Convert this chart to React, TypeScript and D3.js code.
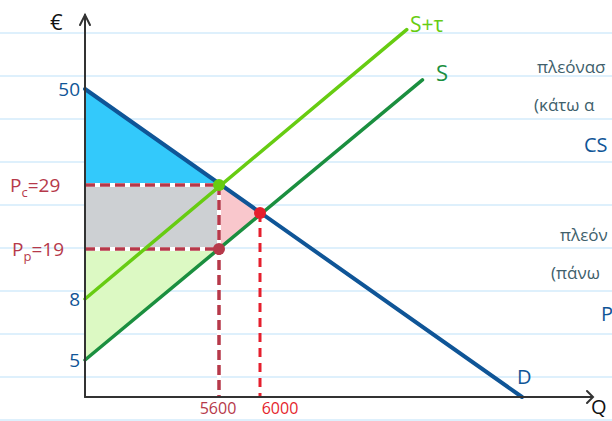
import React from "react";
import * as d3 from "d3";

// quantities and prices
const qTicks = [5600, 6000];
const qTickLabels = ["5600", "6000"];
const pTicks = [50, 8, 5];
const pTickLabels = ["50", "8", "5"];

const priceConsumer = 29; // Pc
const priceProducer = 19; // Pp
const priceEq = 24; // not labelled, estimated
const qTax = 5600;
const qEq = 6000;

// line ends (hand drawn, estimated)
const demand: [number, number][] = [[0, 50], [8500, 0]];
const supply: [number, number][] = [[0, 5], [7550, 52]];
const supplyTax: [number, number][] = [[0, 8], [7400, 63]];

// only the part of the notes that fits on the page
const noteCS = ["πλεόνασ", "(κάτω α", "CS"];
const notePS = ["πλεόν", "(πάνω", "P"];

const W = 612;
const H = 421;

// the drawing is freehand so both axes are piecewise
const x = d3.scaleLinear().domain([0, qTax, qEq, 8500]).range([85, 219, 260, 522]);
const y = d3
  .scaleLinear()
  .domain([0, 5, 8, priceProducer, priceEq, priceConsumer, 50])
  .range([397, 360, 299, 249, 213, 185, 89]);

const line = d3
  .line<[number, number]>()
  .x((d) => x(d[0]))
  .y((d) => y(d[1]));

const poly = (pts: [number, number][]) => line(pts) + "Z";

const colors = {
  blue: "#0f5597",
  cs: "#33c9fb",
  grey: "#cdd0d3",
  dwl: "#f9c7cc",
  ps: "#dcf9c3",
  lime: "#67cc12",
  green: "#1b8f3f",
  maroon: "#b6394a",
  red: "#e51f2d",
  text: "#40606b",
  rule: "#d3ebfb",
  axis: "#333",
};

const font = "'Open Sans', 'DejaVu Sans', sans-serif";

export default function App() {
  const x0 = x(0);
  const y0 = y(0);
  const rules = d3.range(33, H + 5, 43);

  return (
    <svg
      width={W}
      height={H}
      style={{ position: "absolute", left: 0, top: 0, overflow: "hidden", background: "#fff" }}
      fontFamily={font}
    >
      {/* ruled paper */}
      {rules.map((r) => (
        <line key={r} x1={0} x2={W} y1={r} y2={r} stroke={colors.rule} strokeWidth={1.5} />
      ))}

      {/* surplus areas */}
      <path d={poly([[0, 50], [qTax, priceConsumer], [0, priceConsumer]])} fill={colors.cs} />
      <path
        d={poly([[0, priceConsumer], [qTax, priceConsumer], [qTax, priceProducer], [0, priceProducer]])}
        fill={colors.grey}
      />
      <path d={poly([[qTax, priceConsumer], [qEq, priceEq], [qTax, priceProducer]])} fill={colors.dwl} />
      <path d={poly([[0, priceProducer], [qTax, priceProducer], [0, 5]])} fill={colors.ps} />

      {/* dashed guides */}
      {[priceConsumer, priceProducer].map((p) => (
        <g key={p}>
          <line x1={x0} x2={x(qTax)} y1={y(p)} y2={y(p)} stroke="#fff" strokeWidth={4} />
          <line
            x1={x0}
            x2={x(qTax)}
            y1={y(p)}
            y2={y(p)}
            stroke={colors.maroon}
            strokeWidth={3.5}
            strokeDasharray="10 5"
          />
        </g>
      ))}
      <line x1={x(qTax)} x2={x(qTax)} y1={y(priceConsumer)} y2={y0} stroke="#fff" strokeWidth={4} />
      <line
        x1={x(qTax)}
        x2={x(qTax)}
        y1={y(priceConsumer)}
        y2={y0}
        stroke={colors.maroon}
        strokeWidth={3.5}
        strokeDasharray="10 5"
      />
      <line
        x1={x(qEq)}
        x2={x(qEq)}
        y1={y(priceEq)}
        y2={y0}
        stroke={colors.red}
        strokeWidth={3}
        strokeDasharray="9 6"
      />

      {/* curves */}
      <path d={line(supply)!} fill="none" stroke={colors.green} strokeWidth={3.5} strokeLinecap="round" />
      <path d={line(supplyTax)!} fill="none" stroke={colors.lime} strokeWidth={3.5} strokeLinecap="round" />
      <path d={line(demand)!} fill="none" stroke={colors.blue} strokeWidth={4} strokeLinecap="round" />

      {/* axes */}
      <g stroke={colors.axis} strokeWidth={2} fill="none" strokeLinecap="round">
        <line x1={x0} x2={x0} y1={y0} y2={15} />
        <polyline points={`${x0 - 5},25 ${x0},15 ${x0 + 5},25`} />
        <line x1={x0} x2={592} y1={y0} y2={y0} />
        <polyline points={`587,391 593,${y0} 587,403`} />
      </g>
      <text x={50} y={30} fontSize={22} fill="#111">€</text>
      <text x={591} y={414} fontSize={20} fill="#111">Q</text>

      {/* points */}
      <circle cx={x(qTax)} cy={y(priceConsumer)} r={6} fill={colors.lime} />
      <circle cx={x(qEq)} cy={y(priceEq)} r={6} fill={colors.red} />
      <circle cx={x(qTax)} cy={y(priceProducer)} r={6} fill={colors.maroon} />

      {/* price ticks */}
      {pTicks.map((p, i) => (
        <text key={p} x={x0 - 5} y={y(p)} dy="0.35em" textAnchor="end" fontSize={19} fill={colors.blue}>
          {pTickLabels[i]}
        </text>
      ))}
      <text x={10} y={y(priceConsumer)} dy="0.35em" fontSize={19} fill={colors.maroon}>
        P<tspan fontSize={13} dy={5}>c</tspan>
        <tspan dy={-5}>=29</tspan>
      </text>
      <text x={12} y={y(priceProducer)} dy="0.35em" fontSize={19} fill={colors.maroon}>
        P<tspan fontSize={13} dy={5}>p</tspan>
        <tspan dy={-5}>=19</tspan>
      </text>

      {/* quantity ticks */}
      {qTicks.map((q, i) => (
        <text
          key={q}
          x={x(q) + (i === 0 ? -1 : 20)}
          y={y0 + 17}
          textAnchor="middle"
          fontSize={16}
          fill={i === 0 ? colors.maroon : colors.red}
        >
          {qTickLabels[i]}
        </text>
      ))}

      {/* curve labels */}
      <text x={410} y={32} fontSize={21} fill={colors.lime}>S+τ</text>
      <text x={436} y={81} fontSize={22} fill={colors.green}>S</text>
      <text x={517} y={384} fontSize={20} fill={colors.blue}>D</text>

      {/* notes on the right, running off the page in the sketch */}
      <text x={537} y={73} fontSize={17} fill={colors.text}>{noteCS[0]}</text>
      <text x={534} y={111} fontSize={17} fill={colors.text}>{noteCS[1]}</text>
      <text x={584} y={152} fontSize={20} fill={colors.blue}>{noteCS[2]}</text>
      <text x={560} y={241} fontSize={17} fill={colors.text}>{notePS[0]}</text>
      <text x={551} y={279} fontSize={17} fill={colors.text}>{notePS[1]}</text>
      <text x={601} y={321} fontSize={20} fill={colors.blue}>{notePS[2]}</text>
    </svg>
  );
}
